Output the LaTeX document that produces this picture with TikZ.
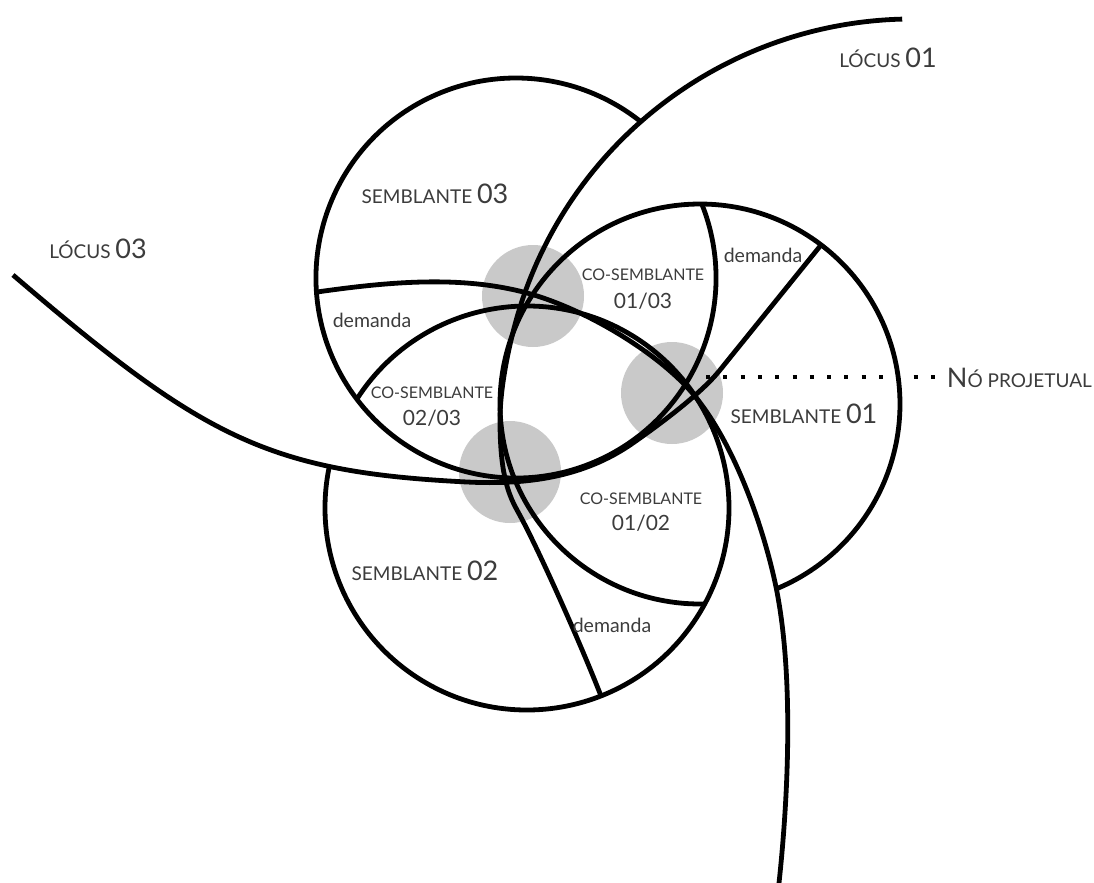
\documentclass[tikz,border=0pt]{standalone}
\usepackage{fontspec}
\setmainfont{Lato}
\usetikzlibrary{calc}
\definecolor{txt}{HTML}{3C3C3C}
\definecolor{knot}{HTML}{C9C9C9}
% type sizes
\newcommand{\scA}{\fontsize{19bp}{22bp}\selectfont}
\newcommand{\numA}{\fontsize{27bp}{30bp}\selectfont}
\newcommand{\scB}{\fontsize{16bp}{19bp}\selectfont}
\newcommand{\numB}{\fontsize{21bp}{24bp}\selectfont}
\newcommand{\demA}{\fontsize{19.5bp}{22bp}\selectfont}
\tikzset{
  stroke/.style={line width=4.8bp, black},
  lbl/.style={text=txt, inner sep=0pt, anchor=base},
  knotdisc/.style={fill=knot, draw=none},
}
\begin{document}
\begin{tikzpicture}[x=1bp,y=-1bp]
\useasboundingbox (0,0) rectangle (1094,883);
\fill[white] (0,0) rectangle (1094,883);

% circle centres
\coordinate (c1) at (700,404);
\coordinate (c2) at (527,508);
\coordinate (c3) at (516,278);

% projective knots
\fill[knotdisc] (533,296) circle[radius=51];
\fill[knotdisc] (672,393) circle[radius=51];
\fill[knotdisc] (510,472) circle[radius=51];

% semblantes (each left open between its locus and its neighbour)
\draw[stroke] ($(c3)+(-22:200)$) arc[start angle=-22, end angle=308.6, radius=200];
\draw[stroke] ($(c1)+(88.6:200)$) arc[start angle=88.6, end angle=427.7, radius=200];
\draw[stroke] ($(c2)+(212.7:202)$) arc[start angle=212.7, end angle=552, radius=202];

% locus 01
\draw[stroke] (902.2,19.1) arc[start angle=268.5, end angle=198, radius=412]
  .. controls (510.4,337) and (500,385) .. (500,420)
  .. controls (500,470) and (507,492) .. (517,510)
  .. controls (538.9,549.3) and (583,649.5) .. (601,696);
% locus 02
\draw[stroke] (779,883) .. controls (790,780) and (792,670) .. (777,592)
  .. controls (765.6,533.2) and (733,433.7) .. (684,384)
  .. controls (645.5,345) and (579.8,307.3) .. (527,293)
  .. controls (459.8,274.8) and (386.3,282.2) .. (317,292);
% locus 03
\draw[stroke] (13,275) .. controls (203,437.5) and (267,472) .. (467,482)
  .. controls (527,485) and (583.9,477.4) .. (633,443)
  .. controls (661.7,422.9) and (701.3,393.4) .. (720,370)
  -- (821,245);

% leader to the projective knot
\draw[line width=4bp, dash pattern=on 4bp off 13.3bp] (706,377) -- (935,377);

% labels
\node[lbl] (locus1) at (888,67) {\scA LÓCUS \numA 01};
\node[lbl] (locus3) at (98,258) {\scA LÓCUS \numA 03};
\node[lbl] (semb3) at (435,203) {\scA SEMBLANTE \numA 03};
\node[lbl] (semb2) at (425,580) {\scA SEMBLANTE \numA 02};
\node[lbl] (semb1) at (804,423) {\scA SEMBLANTE \numA 01};
\node[lbl, anchor=base east] (no) at (1092,387) {\numA N\scA Ó PROJETUAL};
\node[lbl] (co13a) at (643,280) {\scB CO-SEMBLANTE};
\node[lbl] (co13b) at (643,308) {\numB 01/03};
\node[lbl] (co23a) at (432,398) {\scB CO-SEMBLANTE};
\node[lbl] (co23b) at (432,425) {\numB 02/03};
\node[lbl] (co12a) at (641,504) {\scB CO-SEMBLANTE};
\node[lbl] (co12b) at (641,530) {\numB 01/02};
\node[lbl] (dem3) at (372,327) {\demA demanda};
\node[lbl] (dem2) at (612,632) {\demA demanda};
\node[lbl] (dem1) at (763,262) {\demA demanda};
\end{tikzpicture}
\end{document}
